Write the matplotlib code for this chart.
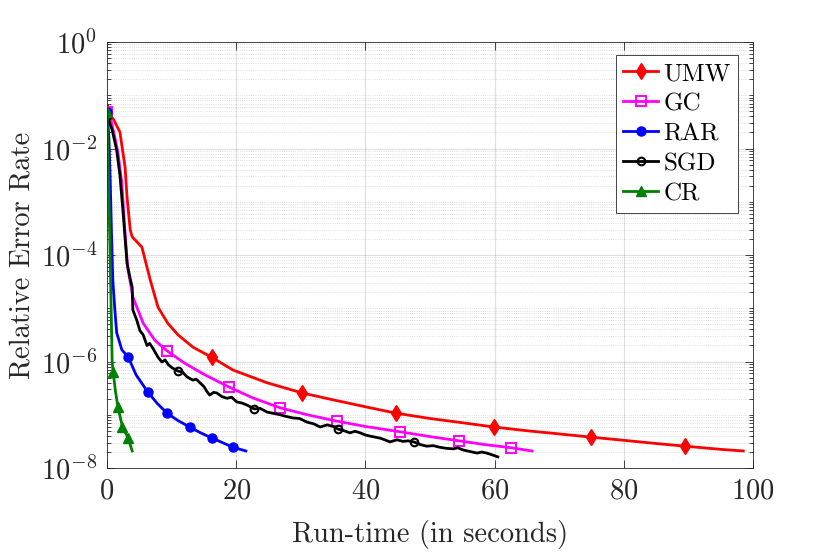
import matplotlib
matplotlib.use("Agg")
import matplotlib.pyplot as plt
import numpy as np
from matplotlib.lines import Line2D
from matplotlib.ticker import LogLocator, NullFormatter

plt.rcParams["font.family"] = "serif"
plt.rcParams["font.serif"] = ["cmr10", "DejaVu Serif"]
plt.rcParams["mathtext.fontset"] = "cm"
plt.rcParams["axes.formatter.use_mathtext"] = True

## DATA (x in seconds, y as log10 of relative error)
umw_x = [0, 1.0, 2.0, 2.8, 3.1, 3.6, 3.9, 5.4, 5.9, 6.7, 7.9, 9.4, 11.0, 13.3, 16.2,
         19.5, 24.8, 30.2, 35.0, 40.0, 44.7, 50.0, 55.0, 59.9, 65.0, 70.0, 74.9,
         80.0, 85.0, 89.5, 95.0, 98.5]
umw_exp = [-1.31, -1.45, -1.69, -2.35, -2.91, -3.53, -3.66, -3.85, -4.09, -4.47, -4.98,
           -5.28, -5.50, -5.73, -5.92, -6.16, -6.40, -6.59, -6.72, -6.85, -6.97, -7.07,
           -7.15, -7.23, -7.30, -7.36, -7.42, -7.48, -7.54, -7.59, -7.65, -7.68]
umw_marks = [0, 14, 17, 20, 23, 26, 29]

gc_x = [0, 0.5, 1.2, 1.7, 2.3, 2.8, 3.2, 4.0, 5.6, 7.4, 9.3, 12.0, 15.0, 18.9, 22.5,
        26.8, 31.0, 35.6, 40.0, 45.4, 50.0, 54.5, 58.5, 62.6, 65.8]
gc_exp = [-1.31, -1.41, -1.78, -2.08, -2.65, -3.59, -4.23, -4.79, -5.28, -5.60, -5.80,
          -6.03, -6.24, -6.48, -6.68, -6.87, -7.00, -7.12, -7.22, -7.32, -7.41, -7.49,
          -7.56, -7.62, -7.68]
gc_marks = [0, 10, 13, 15, 17, 19, 21, 23]

rar_x = [0, 0.3, 0.5, 0.7, 0.9, 1.2, 1.5, 2.3, 3.3, 4.5, 6.3, 7.8, 9.3, 11.0, 12.8,
         14.5, 16.3, 18.0, 19.5, 21.5]
rar_exp = [-1.31, -1.80, -2.60, -3.60, -4.47, -5.00, -5.46, -5.78, -5.92, -6.25, -6.57,
           -6.79, -6.97, -7.11, -7.23, -7.34, -7.44, -7.53, -7.61, -7.68]
rar_marks = [0, 8, 10, 12, 14, 16, 18]

sgd_x = [0, 0.8, 1.5, 2.0, 2.5, 3.1, 3.6, 3.9, 4.0, 4.6, 5.1, 5.6, 6.2, 6.6, 7.1, 7.9,
         8.5, 9.0, 9.5, 10.1, 11.0, 11.7, 12.4, 13.3, 13.8, 14.4, 15.0, 15.5, 15.9, 16.5,
         17.0, 17.8, 18.6, 19.3, 20.1, 20.9, 21.7, 22.8, 23.7, 24.8, 25.6, 26.8, 27.7,
         28.8, 29.8, 31.0, 32.0, 33.0, 34.1, 35.0, 35.8, 36.7, 37.6, 38.4, 39.2, 40.0,
         40.7, 41.5, 42.3, 43.0, 43.8, 44.9, 45.8, 46.6, 47.5, 48.5, 49.5, 50.5, 51.5,
         52.5, 53.6, 54.3, 55.1, 56.2, 57.3, 58.0, 58.8, 59.8, 60.5]
sgd_exp = [-1.38, -1.65, -2.03, -2.50, -3.21, -4.15, -4.45, -4.60, -5.03, -5.22, -5.42,
           -5.50, -5.70, -5.66, -5.75, -5.92, -6.01, -5.97, -6.06, -6.12, -6.18, -6.20,
           -6.29, -6.35, -6.33, -6.40, -6.47, -6.57, -6.63, -6.58, -6.59, -6.66, -6.69,
           -6.67, -6.76, -6.78, -6.82, -6.89, -6.88, -6.95, -6.97, -7.00, -7.03, -7.06,
           -7.07, -7.14, -7.17, -7.23, -7.19, -7.22, -7.27, -7.30, -7.34, -7.31, -7.34,
           -7.38, -7.40, -7.42, -7.44, -7.47, -7.51, -7.47, -7.50, -7.49, -7.51, -7.56,
           -7.59, -7.58, -7.61, -7.63, -7.64, -7.62, -7.66, -7.69, -7.72, -7.70, -7.72,
           -7.76, -7.79]
sgd_marks = [0, 20, 37, 50, 64]

cr_x = [0, 0.45, 0.8, 0.95, 1.3, 1.7, 2.4, 3.3, 3.9]
cr_exp = [-1.31, -3.80, -6.00, -6.19, -6.55, -6.86, -7.23, -7.44, -7.68]
cr_marks = [0, 3, 5, 6, 7]

labels = ["UMW", "GC", "RAR", "SGD", "CR"]

fig = plt.figure(figsize=(8.3, 5.53), dpi=100)
ax = fig.add_axes([0.1289, 0.1537, 0.7783, 0.7703])

styles = [
    dict(color="red", marker="d", ms=8, mfc="red", mec="red", mew=1.0),
    dict(color="magenta", marker="s", ms=7, mfc="none", mec="magenta", mew=1.4),
    dict(color="blue", marker="o", ms=6.5, mfc="blue", mec="blue", mew=1.0),
    dict(color="black", marker="o", ms=5.5, mfc="none", mec="black", mew=1.5),
    dict(color="green", marker="^", ms=7, mfc="green", mec="green", mew=1.0),
]
series = [
    (umw_x, umw_exp, umw_marks),
    (gc_x, gc_exp, gc_marks),
    (rar_x, rar_exp, rar_marks),
    (sgd_x, sgd_exp, sgd_marks),
    (cr_x, cr_exp, cr_marks),
]

for (xs, ys, mk), st in zip(series, styles):
    ax.plot(xs, 10.0 ** np.array(ys), lw=2, markevery=mk, **st)

ax.set_yscale("log")
ax.set_xlim(0, 100)
ax.set_ylim(1e-8, 1e0)
ax.set_xticks([0, 20, 40, 60, 80, 100])
ax.set_yticks([1e0, 1e-2, 1e-4, 1e-6, 1e-8])
ax.yaxis.set_minor_locator(LogLocator(base=10, subs=np.arange(1, 10), numticks=100))
ax.yaxis.set_minor_formatter(NullFormatter())

ax.grid(True, which="major", color="0.15", alpha=0.15, lw=0.8)
ax.grid(True, which="minor", axis="y", color="0.15", alpha=0.2, lw=0.6, ls=":")
ax.set_axisbelow(True)

ax.tick_params(which="both", direction="in", top=True, right=True,
               labelsize=20.5, colors="0.15", labelcolor="0.15", width=0.6)
ax.tick_params(which="major", length=6, pad=7)
ax.tick_params(which="minor", length=3)
for sp in ax.spines.values():
    sp.set_color("0.15")
    sp.set_linewidth(0.6)

ax.set_xlabel("Run-time (in seconds)", fontsize=20.5, color="0.15")
ax.set_ylabel("Relative Error Rate", fontsize=20.5, color="0.15")
ax.xaxis.set_label_coords(0.5, -0.122)
ax.yaxis.set_label_coords(-0.111, 0.5)

handles = [Line2D([], [], lw=2, **st) for st in styles]
leg = ax.legend(handles, labels, loc="upper right", bbox_to_anchor=(0.977, 0.9695),
                borderaxespad=0, fontsize=18, fancybox=False, framealpha=1,
                edgecolor="0.15", handlelength=1.4, handletextpad=0.2,
                borderpad=0.3, labelspacing=0.3)
leg.get_frame().set_linewidth(0.6)

fig.savefig("out.png", dpi=100)
